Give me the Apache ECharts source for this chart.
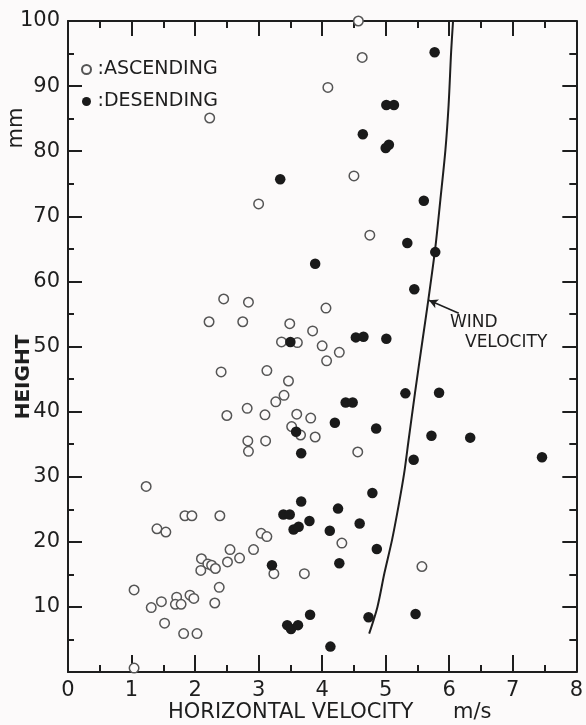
<!DOCTYPE html>
<html>
<head>
<meta charset="utf-8">
<script src="https://cdn.jsdelivr.net/npm/echarts@6/dist/echarts.min.js"></script>
<style>
html,body{margin:0;padding:0;background:#fcfafa;}
#chart{width:586px;height:725px;}
</style>
</head>
<body>
<div id="chart"></div>
<script>
const ascending = [
  [2.23,85.1],[3.00,71.9],[4.57,100.0],[4.63,94.4],[4.09,89.8],[4.50,76.2],[4.75,67.1],
  [4.06,55.9],[3.85,52.4],[4.00,50.1],[4.27,49.1],[4.07,47.8],[3.82,39.0],[3.89,36.1],
  [4.56,33.8],[2.45,57.3],[2.84,56.8],[2.22,53.8],[2.75,53.8],[3.49,53.5],[3.36,50.7],
  [3.61,50.6],[2.41,46.1],[3.13,46.3],[3.47,44.7],[3.40,42.5],[3.27,41.5],[2.50,39.4],
  [2.82,40.5],[3.10,39.5],[3.60,39.6],[3.52,37.7],[3.66,36.4],[2.83,35.5],[3.11,35.5],
  [2.84,33.9],[1.23,28.5],[4.31,19.8],[3.04,21.3],[3.13,20.8],[2.55,18.8],[2.92,18.8],
  [2.70,17.5],[3.24,15.1],[3.72,15.1],[5.57,16.2],[1.40,22.0],[1.54,21.5],[1.84,24.0],
  [1.95,24.0],[2.39,24.0],[2.10,17.4],[2.20,16.6],[2.26,16.4],[2.32,15.9],[2.09,15.6],
  [2.51,16.9],[1.04,12.6],[1.31,9.9],[1.47,10.8],[1.71,11.5],[1.69,10.4],[1.78,10.4],
  [1.92,11.8],[1.98,11.3],[2.38,13.0],[2.31,10.6],[1.52,7.5],[1.82,5.9],[2.03,5.9],
  [1.04,0.6]
];
const descending = [
  [3.34,75.7],[5.77,95.2],[5.01,87.1],[5.13,87.1],[4.64,82.6],[5.00,80.5],[5.05,81.0],
  [5.60,72.4],[5.34,65.9],[5.78,64.5],[3.89,62.7],[5.45,58.8],[4.53,51.4],[4.65,51.5],
  [5.01,51.2],[3.50,50.7],[5.31,42.8],[5.84,42.9],[4.37,41.4],[4.48,41.4],[4.20,38.3],
  [4.85,37.4],[3.59,36.9],[3.67,33.6],[5.72,36.3],[6.33,36.0],[5.44,32.6],[7.46,33.0],
  [4.79,27.5],[3.67,26.2],[4.25,25.1],[3.39,24.2],[3.49,24.2],[3.80,23.2],[3.55,21.9],
  [3.63,22.3],[4.12,21.7],[4.59,22.8],[4.86,18.9],[3.21,16.4],[4.27,16.7],[3.81,8.8],
  [3.45,7.2],[3.51,6.6],[3.62,7.2],[4.13,3.9],[4.73,8.4],[5.47,8.9]
];
const windVelocity = [
  [4.74,5.9],[4.87,10.0],[4.98,15.2],[5.10,20.3],[5.20,25.4],[5.29,30.5],[5.36,35.6],
  [5.46,42.8],[5.58,51.0],[5.67,57.1],[5.78,65.1],[5.86,72.5],[5.94,80.2],[5.99,87.1],
  [6.03,95.3],[6.06,100]
];
const windArrow = [[6.15,55.1],[5.68,57.1]];
const seriesNames = [':ASCENDING', ':DESENDING'];
const xTitle = 'HORIZONTAL VELOCITY';
const xUnit = 'm/s';
const yTitle = 'HEIGHT';
const yUnit = 'mm';
const windLabel = ['WIND', 'VELOCITY'];

const ink = '#1e1e1e';
const font = 'DejaVu Sans';
const chart = echarts.init(document.getElementById('chart'));

function txt(text, x, y, size, opts) {
  opts = opts || {};
  return {
    type: 'text', x: x, y: y, rotation: opts.rotation || 0, z: 50,
    style: {
      text: text, fill: ink,
      font: (opts.weight || 'normal') + ' ' + size + 'px "' + font + '"',
      align: opts.align || 'left', verticalAlign: 'middle',
      textAlign: opts.align || 'left', textVerticalAlign: 'middle'
    }
  };
}

// a major-tick axis (with line) and a minor-tick helper axis per edge;
// ticks point into the plot (negative length flips them inward)
function edgeAxis(min, max, interval, position, tickLen, showLine, label) {
  return {
    type: 'value', min: min, max: max, interval: interval, position: position,
    axisLine: { show: showLine, onZero: false, lineStyle: { color: ink, width: 2 } },
    axisTick: { show: true, inside: false, length: -tickLen, lineStyle: { color: ink, width: 2 } },
    minorTick: { show: false },
    splitLine: { show: false },
    axisLabel: label || { show: false }
  };
}

const xLabel = { fontFamily: font, fontSize: 21, color: ink, margin: 8 };
const yLabel = {
  fontFamily: font, fontSize: 21, color: ink, margin: 8,
  formatter: function (v) { return v === 0 ? '' : String(v); }
};

chart.setOption({
  backgroundColor: '#fcfafa',
  animation: false,
  grid: { left: 68, right: 8, top: 21, bottom: 53 },
  legend: {
    data: seriesNames,
    orient: 'vertical',
    left: 76, top: 55,
    itemWidth: 12, itemHeight: 9, itemGap: 13,
    textStyle: { fontFamily: font, fontSize: 19, color: ink }
  },
  xAxis: [
    edgeAxis(0, 8, 1, 'bottom', 17, true, xLabel),
    edgeAxis(0, 8, 1, 'top', 15, true),
    edgeAxis(0, 8, 0.5, 'bottom', 7, false),
    edgeAxis(0, 8, 0.5, 'top', 7, false)
  ],
  yAxis: [
    edgeAxis(0, 100, 10, 'left', 14, true, yLabel),
    edgeAxis(0, 100, 10, 'right', 14, true),
    edgeAxis(0, 100, 5, 'left', 6, false),
    edgeAxis(0, 100, 5, 'right', 7, false)
  ],
  series: [
    {
      name: seriesNames[0], type: 'scatter', data: ascending,
      symbol: 'circle', symbolSize: 9.5,
      itemStyle: { color: '#fcfafa', borderColor: '#555555', borderWidth: 1.5, opacity: 1 },
      z: 3
    },
    {
      name: seriesNames[1], type: 'scatter', data: descending,
      symbol: 'circle', symbolSize: 10.5,
      itemStyle: { color: '#1a1a1a', opacity: 1 },
      z: 4
    },
    {
      name: 'wind', type: 'line', data: windVelocity, smooth: 0.3,
      showSymbol: false, symbol: 'none',
      lineStyle: { color: ink, width: 2 },
      z: 2,
      markLine: {
        silent: true, symbol: ['none', 'arrow'], symbolSize: [7, 9],
        label: { show: false },
        lineStyle: { color: ink, width: 1.5, type: 'solid' },
        data: [[{ coord: windArrow[0] }, { coord: windArrow[1] }]]
      }
    }
  ],
  graphic: [
    txt(xTitle, 168, 713, 21),
    txt(xUnit, 453, 713, 21),
    txt(yTitle, 24, 377, 20, { rotation: Math.PI / 2, align: 'center', weight: 'bold' }),
    txt(yUnit, 17, 128, 21, { rotation: Math.PI / 2, align: 'center' }),
    txt(windLabel[0], 450, 323, 17),
    txt(windLabel[1], 465, 343, 17)
  ]
});
</script>
</body>
</html>
